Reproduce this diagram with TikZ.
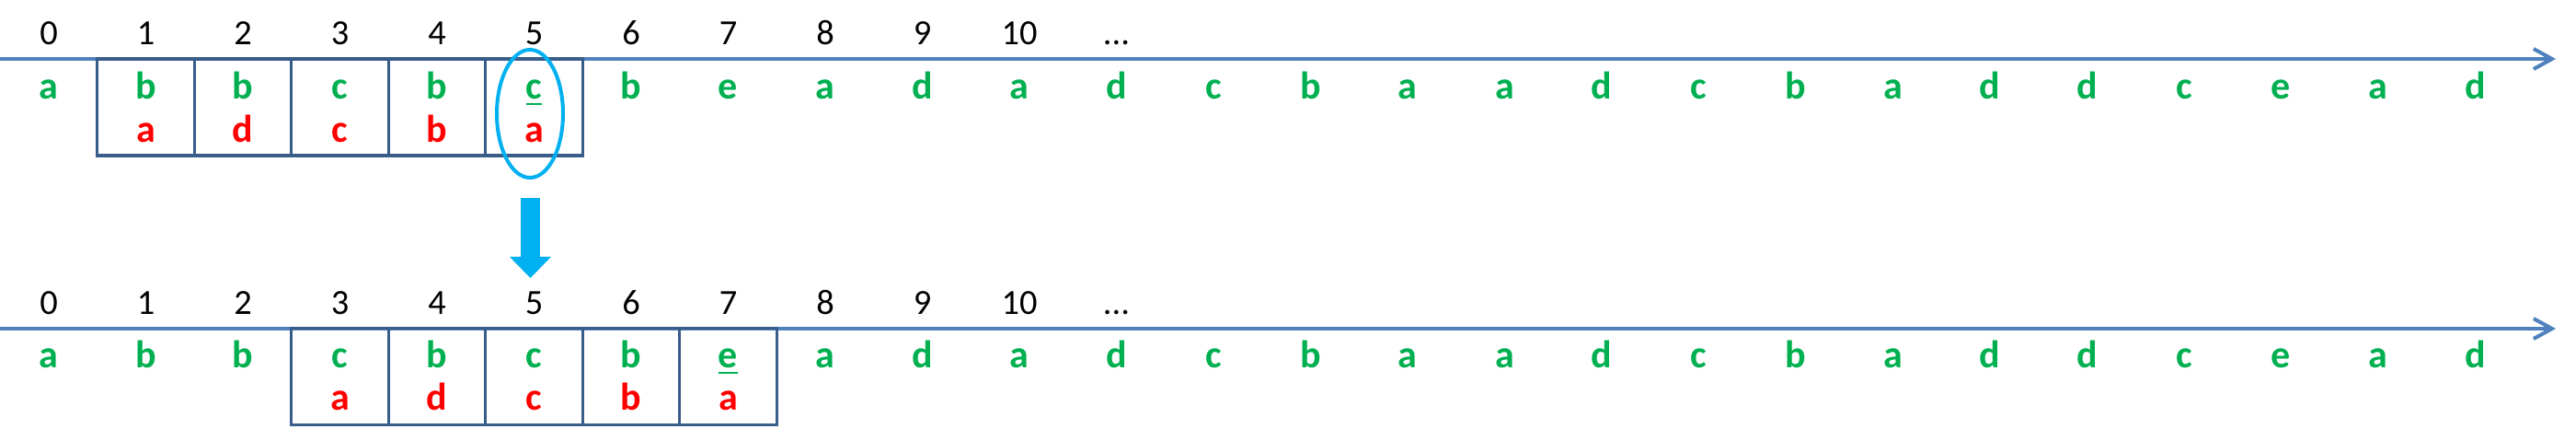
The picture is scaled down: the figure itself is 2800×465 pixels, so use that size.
\documentclass[tikz,border=0pt]{standalone}
\usepackage{fontspec}
\setmainfont{Carlito}
\usetikzlibrary{arrows.meta,shapes.geometric}

\definecolor{lineblue}{RGB}{79,129,189}
\definecolor{boxblue}{RGB}{56,93,138}
\definecolor{markblue}{RGB}{0,176,240}
\definecolor{symgreen}{RGB}{0,176,80}
\definecolor{symred}{RGB}{255,0,0}

\tikzset{
  index/.style={anchor=base, inner sep=0pt, font=\fontsize{9.6}{12}\selectfont},
  symbol/.style={anchor=base, inner sep=0pt, text=symgreen,
    font=\fontsize{10.5}{13}\selectfont\bfseries},
  state/.style={symbol, text=symred},
  cell/.style={draw=boxblue, line width=0.8pt, minimum width=26.375pt,
    minimum height=26.25pt, inner sep=0pt},
  timeline/.style={draw=lineblue, line width=1pt, line cap=round,
    -{Straight Barb[length=5pt,width=5.5pt]}},
  focus/.style={draw=markblue, line width=1pt, ellipse, inner sep=0pt,
    minimum width=18pt, minimum height=34.75pt},
  drop/.style={draw=markblue, line width=5.2pt,
    -{Triangle[length=5.8pt,width=11.3pt,line width=0pt]}}
}

\begin{document}
\begin{tikzpicture}[x=0.25pt,y=0.25pt]

  \useasboundingbox (0,0) rectangle (2800,465);

  \def\dx{105.5}
  \def\stream{a,b,b,c,b,c,b,e,a,d,a,d,c,b,a,a,d,c,b,a,d,d,c,e,a,d}
  \def\window{a,d,c,b,a}

  % top row: window at 1..5
  \coordinate (top start) at (0,401);
  \coordinate (top end) at (2778,401);
  \draw[timeline] (top start) -- (top end);

  \foreach \i in {0,...,10}
  \node[index] (top-num\i) at (53+\dx*\i, 417) {\i};
  \node[index] (top-dots) at (53+\dx*11, 417) {...};

  \foreach \k in {1,...,5}
  \node[cell] (top-cell\k) at (53+\dx*\k, 348.5) {};

  \foreach \s [count=\i from 0] in \stream {
    \ifnum\i=5 \def\txt{\underline{\s}}\else\def\txt{\s}\fi
    \node[symbol] (top-sym\i) at (53+\dx*\i, 358) {\txt};
  }
  \foreach \s [count=\k from 1] in \window
  \node[state] (top-state\k) at (53+\dx*\k, 311) {\s};

  \node[focus] (pick) at (576,341.5) {};

  % shift down
  \coordinate (drop start) at (576.5,250);
  \coordinate (drop end) at (576.5,163);
  \draw[drop] (drop start) -- (drop end);

  % bottom row: window at 3..7
  \coordinate (bot start) at (0,108);
  \coordinate (bot end) at (2778,108);
  \draw[timeline] (bot start) -- (bot end);

  \foreach \i in {0,...,10}
  \node[index] (bot-num\i) at (53+\dx*\i, 124) {\i};
  \node[index] (bot-dots) at (53+\dx*11, 124) {...};

  \foreach \k in {3,...,7}
  \node[cell] (bot-cell\k) at (53+\dx*\k, 56) {};

  \foreach \s [count=\i from 0] in \stream {
    \ifnum\i=7 \def\txt{\underline{\s}}\else\def\txt{\s}\fi
    \node[symbol] (bot-sym\i) at (53+\dx*\i, 66) {\txt};
  }
  \foreach \s [count=\k from 3] in \window
  \node[state] (bot-state\k) at (53+\dx*\k, 20) {\s};

\end{tikzpicture}
\end{document}
